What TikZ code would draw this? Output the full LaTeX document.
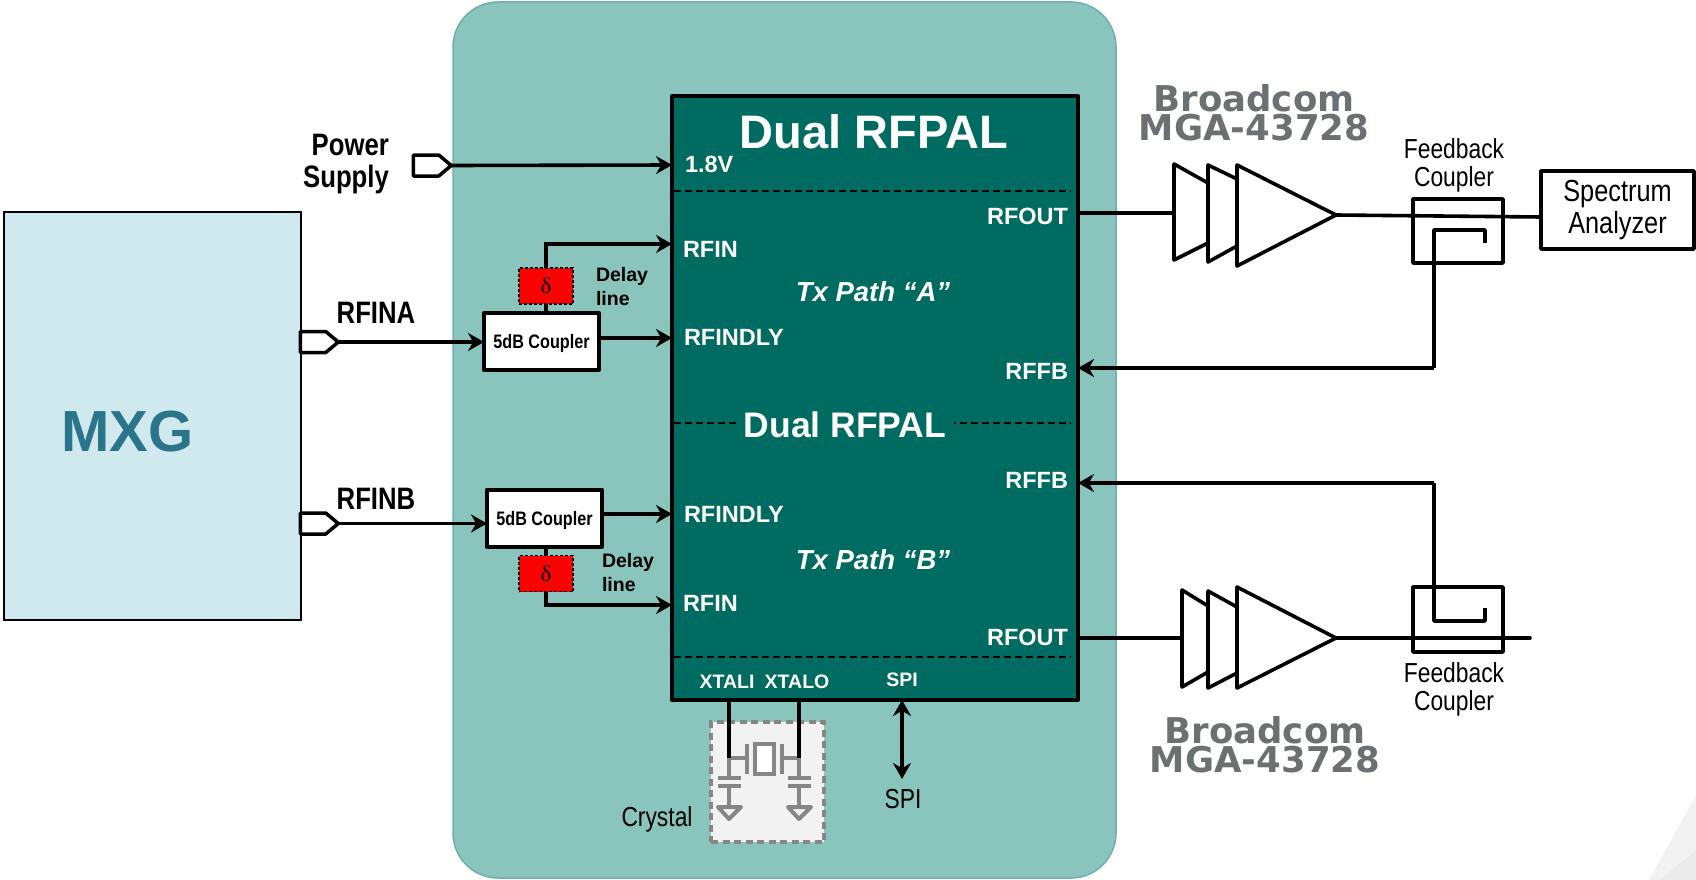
\documentclass[tikz,border=0pt]{standalone}
\usepackage{fontspec}
\setmainfont{Liberation Sans}
\newfontfamily\narrowfont[FakeStretch=0.83]{Liberation Sans}
\newfontfamily\brandfont{DejaVu Sans}
\newfontfamily\deltafont{Liberation Serif}
\usepackage{tikz}
\usetikzlibrary{arrows.meta,shapes.symbols}

\definecolor{panelteal}{HTML}{89C4BD}
\definecolor{paneledge}{HTML}{6FB0A8}
\definecolor{chipteal}{HTML}{006B60}
\definecolor{mxgblue}{HTML}{D0E9EE}
\definecolor{mxgtext}{HTML}{2A7589}
\definecolor{brandgrey}{HTML}{6D7072}
\definecolor{xtalgrey}{HTML}{868686}

\tikzset{
  every node/.style={inner sep=0pt, outer sep=0pt},
  sig/.style={line width=3.6pt, -{Stealth[length=16pt,width=18pt]}},
  wire/.style={line width=3.6pt, line join=round},
  amp/.style={line width=3.6pt, line join=round, fill=white},
  port/.style={draw, line width=3.5pt, fill=white, signal, signal to=east, signal pointer angle=80,
    minimum width=38pt, minimum height=21pt, line join=round},
  coupler/.style={draw, line width=4pt, fill=white, minimum width=115pt, minimum height=57pt, line join=round,
    text depth=0pt, font=\narrowfont\fontsize{19.5}{22}\selectfont\bfseries},
  delaybox/.style={draw, densely dashed, line width=1.4pt, fill=red, minimum width=54pt, minimum height=36pt,
    font=\deltafont\fontsize{23}{25}\selectfont},
  pin/.style={text=white, text depth=0pt, font=\fontsize{23.5}{25}\selectfont\bfseries},
  xpin/.style={text=white, text depth=0pt, font=\fontsize{19.5}{21}\selectfont\bfseries},
  path/.style={text=white, font=\fontsize{27.5}{29}\selectfont\bfseries\itshape},
  delaytext/.style={align=left, anchor=west, font=\fontsize{19.5}{24}\selectfont\bfseries},
  black label/.style={align=center, font=\narrowfont\fontsize{27.5}{28}\selectfont},
  input label/.style={align=right, font=\narrowfont\fontsize{31}{32}\selectfont\bfseries},
  brand/.style={align=center, text=brandgrey, font=\brandfont\fontsize{35.5}{29}\selectfont\bfseries},
  divider/.style={line width=1.2pt, dash pattern=on 7pt off 4pt},
  xtal/.style={line width=4pt, xtalgrey},
}

\begin{document}
\begin{tikzpicture}[x=1pt, y=-1pt]
\useasboundingbox (0,0) rectangle (1696,880);

% corner shading
\fill[black!5] (1696,795) -- (1649,880) -- (1696,880) -- cycle;
\fill[black!8] (1696,850) -- (1660,880) -- (1696,880) -- cycle;

\node[draw=paneledge, line width=1.5pt, fill=panelteal, rounded corners=45pt, minimum width=663pt, minimum height=876pt] (panel) at (784.5,440) {};
\node[draw, line width=2pt, fill=mxgblue, minimum width=297pt, minimum height=408pt] (mxg) at (152.5,416) {};
\node[text=mxgtext, font=\fontsize{58}{60}\selectfont\bfseries] (mxgname) at (127.5,432) {MXG};
\node[draw, line width=4pt, fill=chipteal, line join=round, minimum width=406pt, minimum height=604pt] (rfpal) at (875,398) {};

% dividers in the chip
\coordinate (A) at (674,191);
\coordinate (B) at (1071,191);
\draw[divider] (A) -- (B);
\coordinate (A) at (674,423);
\coordinate (B) at (1071,423);
\draw[divider] (A) -- (B);
\coordinate (A) at (674,657);
\coordinate (B) at (1071,657);
\draw[divider] (A) -- (B);

\node[text=white, font=\fontsize{47}{48}\selectfont\bfseries] (title) at (874,132) {Dual RFPAL};
\node[text=white, fill=chipteal, inner xsep=8pt, inner ysep=2pt, font=\fontsize{35.5}{37}\selectfont\bfseries] (subtitle) at (845,425) {Dual RFPAL};

\node[pin, anchor=west] (vdd) at (685,164) {1.8V};
\node[pin, anchor=west] (rfinA) at (683,249) {RFIN};
\node[pin, anchor=west] (dlyA) at (684,337) {RFINDLY};
\node[pin, anchor=east] (outA) at (1068,216) {RFOUT};
\node[pin, anchor=east] (fbA) at (1068,371) {RFFB};
\node[path] (pathA) at (873,291.5) {Tx Path “A”};

\node[pin, anchor=east] (fbB) at (1068,480) {RFFB};
\node[pin, anchor=west] (dlyB) at (684,514) {RFINDLY};
\node[pin, anchor=west] (rfinB) at (683,603) {RFIN};
\node[pin, anchor=east] (outB) at (1068,637) {RFOUT};
\node[path] (pathB) at (873,559.5) {Tx Path “B”};

\node[xpin] (xtali) at (727,682) {XTALI};
\node[xpin] (xtalo) at (797,682) {XTALO};
\node[xpin] (spipin) at (902,680) {SPI};

% power and inputs
\node[input label] (power) at (346,164) {Power\\Supply};
\node[port] (pwrport) at (426,165.5) {};
\coordinate (pwrin) at (672,165);
\draw[sig] (pwrport.east) -- (pwrin);

\node[input label] (rfinalbl) at (376,313) {RFINA};
\node[port] (portA) at (313,342) {};
\node[coupler] (cplA) at (541.5,341.5) {5dB Coupler};
\draw[sig] (portA.east) -- (cplA.west |- portA.east);

\node[input label] (rfinblbl) at (376,499) {RFINB};
\node[port] (portB) at (313,523.5) {};
\node[coupler] (cplB) at (544.5,518) {5dB Coupler};
\draw[sig] (portB.east) -- (cplB.west |- portB.east);

% delay lines
\node[delaybox] (deltaA) at (546,286) {δ};
\node[delaybox] (deltaB) at (546,573.5) {δ};
\node[delaytext] (delaylblA) at (596,286.5) {Delay\\line};
\node[delaytext] (delaylblB) at (602,572.5) {Delay\\line};

\coordinate (pinA) at (672,244);
\coordinate (pinB) at (672,338);
\coordinate (pinC) at (672,514);
\coordinate (pinD) at (672,605);
\draw[wire] (cplA.north -| deltaA) -- (deltaA.south);
\draw[sig] (deltaA.north) |- (pinA);
\draw[sig] (cplA.east |- pinB) -- (pinB);
\draw[wire] (cplB.south -| deltaB) -- (deltaB.north);
\draw[sig] (deltaB.south) |- (pinD);
\draw[sig] (cplB.east |- pinC) -- (pinC);

% crystal
\node[draw=xtalgrey, line width=3.5pt, dash pattern=on 7pt off 4.5pt, fill=black!5, minimum width=113pt, minimum height=120pt] (xtalbox) at (767.5,782) {};
\node[black label] (xtallbl) at (657,819) {Crystal};
\coordinate (jL) at (729,758);
\coordinate (jR) at (799,758);
\draw[xtal] (jL) -- (747,758) (747,744) -- (747,774);
\draw[xtal] (jR) -- (782,758) (782,744) -- (782,774);
\draw[xtal, fill=white] (755,744) rectangle (774,774);
\draw[xtal] (jL) -- (729,778) (718,778) -- (741,778) (718,786) -- (741,786) (729,786) -- (729,807);
\draw[xtal] (jR) -- (799,778) (788,778) -- (811,778) (788,786) -- (811,786) (799,786) -- (799,807);
\draw[xtal, fill=black!5, line join=round] (718,807) -- (741,807) -- (729,819) -- cycle;
\draw[xtal, fill=black!5, line join=round] (788,807) -- (811,807) -- (799,819) -- cycle;
\draw[wire] (jL |- rfpal.south) -- (jL);
\draw[wire] (jR |- rfpal.south) -- (jR);

\node[black label] (spilbl) at (903,799) {SPI};
\coordinate (spiend) at (902,779);
\draw[wire, {Stealth[length=16pt,width=18pt]}-{Stealth[length=16pt,width=18pt]}] (spiend |- rfpal.south) -- (spiend);

% upper output chain
\node[brand] (brandA) at (1254,113) {Broadcom\\MGA-43728};
\coordinate (ampAin) at (1174,213);
\coordinate (ampAout) at (1336,215);
\draw[wire] (rfpal.east |- ampAin) -- (ampAin);
\draw[amp] (1174,164) -- (1208,183) -- (1208,243) -- (1174,260) -- cycle;
\draw[amp] (1208,165) -- (1237,179) -- (1237,246) -- (1208,262) -- cycle;
\draw[amp] (1237,165) -- (ampAout) -- (1237,266) -- cycle;
\node[black label] (fblblA) at (1454,165) {Feedback\\Coupler};
\node[draw, line width=3.5pt, fill=white, line join=round, minimum width=153pt, minimum height=78pt, align=center, font=\narrowfont\fontsize{30.5}{32}\selectfont] (analyzer) at (1617.5,210) {Spectrum\\Analyzer};
\node[draw, line width=3.5pt, minimum width=90pt, minimum height=64pt, line join=round] (fbA box) at (1458,231) {};
\coordinate (anin) at (1541,217);
\draw[wire] (ampAout) -- (anin);
\coordinate (tailA) at (1485,243);
\coordinate (fbturnA) at (1434,368);
\coordinate (fbinA) at (1078,368);
\draw[wire] (tailA) |- (1434,230) -- (fbturnA);
\draw[sig] (fbturnA) -- (fbinA);

% lower output chain
\node[brand] (brandB) at (1265,744.5) {Broadcom\\MGA-43728};
\coordinate (ampBin) at (1182,638);
\coordinate (ampBout) at (1336,638);
\draw[wire] (rfpal.east |- ampBin) -- (ampBin);
\draw[amp] (1182,590) -- (1208,606) -- (1208,672) -- (1182,687) -- cycle;
\draw[amp] (1208,591) -- (1237,607) -- (1237,673) -- (1208,688) -- cycle;
\draw[amp] (1237,587) -- (ampBout) -- (1237,688) -- cycle;
\node[black label] (fblblB) at (1454,689) {Feedback\\Coupler};
\node[draw, line width=3.5pt, minimum width=90pt, minimum height=65pt, line join=round] (fbB box) at (1458,619.5) {};
\coordinate (lineend) at (1530,638);
\draw[wire, line cap=round] (ampBout) -- (lineend);
\coordinate (tailB) at (1485,608);
\coordinate (fbturnB) at (1434,483);
\coordinate (fbinB) at (1078,483);
\draw[wire] (tailB) |- (1434,621) -- (fbturnB);
\draw[sig] (fbturnB) -- (fbinB);

\end{tikzpicture}
\end{document}
